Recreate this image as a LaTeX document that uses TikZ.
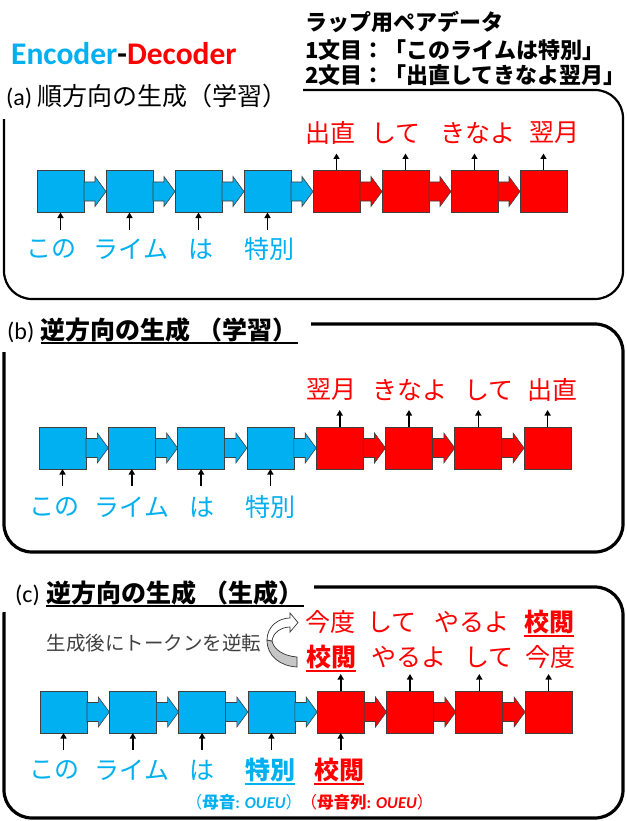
\documentclass[tikz,border=0pt]{standalone}
\usepackage{fontspec}
\setmainfont{Carlito}
\newfontfamily\jp{Noto Sans CJK JP}
\usetikzlibrary{calc,arrows.meta}
\definecolor{cy}{RGB}{0,176,240}
\definecolor{rd}{RGB}{255,0,0}
\definecolor{edgegray}{RGB}{64,64,64}
\definecolor{notegray}{RGB}{64,64,64}
\tikzset{
  encbox/.style={draw=edgegray, line width=0.8pt, fill=cy, minimum width=47pt, minimum height=42pt, inner sep=0pt, outer sep=0pt},
  decbox/.style={encbox, fill=rd},
  smallarrow/.style={line width=1.6pt, -{Triangle[length=5.5pt,width=6pt]}},
  panelthin/.style={draw, line width=2.2pt, rounded corners=28pt},
  panelthick/.style={draw, line width=3.2pt, rounded corners=28pt},
  word/.style={font=\jp\fontsize{25}{30}\selectfont, inner sep=0pt},
  bword/.style={font=\jp\bfseries\fontsize{25}{30}\selectfont, inner sep=0pt},
  enctext/.style={word, text=cy},
  dectext/.style={word, text=rd},
  header/.style={font=\jp\bfseries\fontsize{22}{28}\selectfont, inner sep=0pt, anchor=west},
  panellabel/.style={font=\fontsize{24}{28}\selectfont, inner sep=0pt, anchor=base west},
  paneltitle/.style={font=\jp\bfseries\fontsize{25}{28}\selectfont, inner sep=0pt, anchor=base west},
  ulbold/.style={line width=1.8pt},
  small/.style={font=\fontsize{16.5}{19}\selectfont, inner sep=0pt},
}
\newcommand{\blk}[3]{%
  \filldraw[fill=#3, draw=edgegray, line width=0.6pt]
    ($(#1.east)+(0,-9.5)$) -- ($(#2.west)+(-11,-9.5)$) -- ($(#2.west)+(-11,-15)$)
    -- (#2.west) -- ($(#2.west)+(-11,15)$) -- ($(#2.west)+(-11,9.5)$)
    -- ($(#1.east)+(0,9.5)$) -- cycle;}
\begin{document}
\begin{tikzpicture}[x=1pt,y=-1pt]
\useasboundingbox (0,0) rectangle (626,821);
\fill[white] (0,0) rectangle (626,821);

% ---------- title & header
\node[anchor=west, inner sep=0pt, font=\bfseries\fontsize{31.5}{36}\selectfont] (title) at (11,54)
  {\textcolor{cy}{Encoder}-\textcolor{rd}{Decoder}};
\node[header] (h1) at (305,22) {ラップ用ペアデータ};
\node[header] (h2) at (305,50) {1文目：「このライムは特別」};
\node[header] (h3) at (305,75) {2文目：「出直してきなよ翌月」};

% ---------- panels
\draw[panelthin] (4,90) rectangle (623,299);
\fill[white] (0,80) rectangle (303,119);
\node[panellabel] (la) at (6,106) {(a)};
\node[panellabel, font=\jp\fontsize{25}{28}\selectfont] (lat) at ($(la.base east)+(5,0)$) {順方向の生成（学習）};

\draw[panelthick] (4,324) rectangle (623,552);
\fill[white] (0,310) rectangle (311,352);
\node[panellabel] (lb) at (7,339) {(b)};
\node[paneltitle] (lbt) at ($(lb.base east)+(6,0)$) {逆方向の生成\hspace{7pt}（学習）};
\draw[ulbold] ([yshift=-4pt]lbt.base west) -- ([yshift=-4pt]lbt.base east);

\draw[panelthick] (4,587) rectangle (623,818);
\fill[white] (0,575) rectangle (314,612);
\node[panellabel] (lc) at (15,602) {(c)};
\node[paneltitle] (lct) at ($(lc.base east)+(6,0)$) {逆方向の生成\hspace{7pt}（生成）};
\draw[ulbold] ([yshift=-4pt]lct.base west) -- ([yshift=-4pt]lct.base east);

% ---------- boxes
\foreach \i in {1,...,4} {
  \node[encbox] (a\i) at ({60.5+69*(\i-1)},191.5) {};
  \node[encbox] (b\i) at ({62.5+69.3*(\i-1)},448) {};
  \node[encbox] (c\i) at ({63.5+69.3*(\i-1)},712) {};
}
\foreach \i in {5,...,8} {
  \node[decbox] (a\i) at ({60.5+69*(\i-1)},191.5) {};
  \node[decbox] (b\i) at ({62.5+69.3*(\i-1)},448) {};
  \node[decbox] (c\i) at ({63.5+69.3*(\i-1)},712) {};
}
\foreach \p in {a,b,c} {
  \blk{\p1}{\p2}{cy} \blk{\p2}{\p3}{cy} \blk{\p3}{\p4}{cy} \blk{\p4}{\p5}{cy}
  \blk{\p5}{\p6}{rd} \blk{\p6}{\p7}{rd} \blk{\p7}{\p8}{rd}
}
% input / output arrows
\foreach \p in {a,b,c} {
  \foreach \i in {1,...,4} {
    \coordinate (\p in\i) at ($(\p\i.south)+(0,17)$);
    \draw[smallarrow] (\p in\i) -- (\p\i.south);
  }
  \foreach \i in {5,...,8} {
    \coordinate (\p out\i) at ($(\p\i.north)+(0,-17)$);
    \draw[smallarrow] (\p\i.north) -- (\p out\i);
  }
}
\coordinate (cin5) at ($(c5.south)+(0,17)$);
\draw[smallarrow] (cin5) -- (c5.south);

% ---------- panel (a) words
\node[enctext] (aw1) at (51,249) {この};
\node[enctext] (aw2) at (131,249) {ライム};
\node[enctext] (aw3) at (201,249) {は};
\node[enctext] (aw4) at (269,249) {特別};
\node[dectext] (aw5) at (330,133) {出直};
\node[dectext] (aw6) at (396,133) {して};
\node[dectext] (aw7) at (478,133) {きなよ};
\node[dectext] (aw8) at (554,133) {翌月};

% ---------- panel (b) words
\node[enctext] (bw1) at (54,507) {この};
\node[enctext] (bw2) at (132,507) {ライム};
\node[enctext] (bw3) at (202,507) {は};
\node[enctext] (bw4) at (270,507) {特別};
\node[dectext] (bw5) at (331,390) {翌月};
\node[dectext] (bw6) at (410,390) {きなよ};
\node[dectext] (bw7) at (489,390) {して};
\node[dectext] (bw8) at (552,390) {出直};

% ---------- panel (c) words
\node[enctext] (cw1) at (54,770) {この};
\node[enctext] (cw2) at (132,770) {ライム};
\node[enctext] (cw3) at (202,770) {は};
\node[bword, text=cy] (cw4) at (270,770) {特別};
\draw[ulbold, cy] ([yshift=-2pt]cw4.south west) -- ([yshift=-2pt]cw4.south east);
\node[bword, text=rd] (cw5) at (339,770) {校閲};
\draw[ulbold, rd] ([yshift=-2pt]cw5.south west) -- ([yshift=-2pt]cw5.south east);

\node[dectext] (r1a) at (330,622) {今度};
\node[dectext] (r1b) at (392,622) {して};
\node[dectext] (r1c) at (472,622) {やるよ};
\node[bword, text=rd] (r1d) at (549,622) {校閲};
\draw[ulbold, rd] ([yshift=-2pt]r1d.south west) -- ([yshift=-2pt]r1d.south east);

\node[bword, text=rd] (r2a) at (331,657) {校閲};
\draw[ulbold, rd] ([yshift=-2pt]r2a.south west) -- ([yshift=-2pt]r2a.south east);
\node[dectext] (r2b) at (409,657) {やるよ};
\node[dectext] (r2c) at (489,657) {して};
\node[dectext] (r2d) at (550,657) {今度};

\node[small, text=cy] (v1) at (244,802) {{\jp （}\textbf{{\jp 母音}:} \textbf{\textit{OUEU}}{\jp ）}};
\node[small, text=rd] (v2) at (367,802) {{\jp （}\textbf{{\jp 母音列}:} \textbf{\textit{OUEU}}{\jp ）}};

% ---------- reversal note and curved arrow
\node[inner sep=0pt, text=notegray, font=\jp\fontsize{19.5}{22}\selectfont] (note) at (154,643) {生成後にトークンを逆転};
\filldraw[fill=gray!45, draw=black!80, line width=0.7pt]
  (267,640) .. controls (267,656) and (280,666) .. (297,667)
  -- (297,657) .. controls (284,656) and (274,650) .. (272,641) -- cycle;
\filldraw[fill=white, draw=black!80, line width=0.7pt]
  (267,640) .. controls (267,626) and (279,618) .. (290,618)
  -- (290,613) -- (298,622.5) -- (290,632) -- (290,627)
  .. controls (282,627) and (273,632) .. (272,641) -- cycle;
\end{tikzpicture}
\end{document}
